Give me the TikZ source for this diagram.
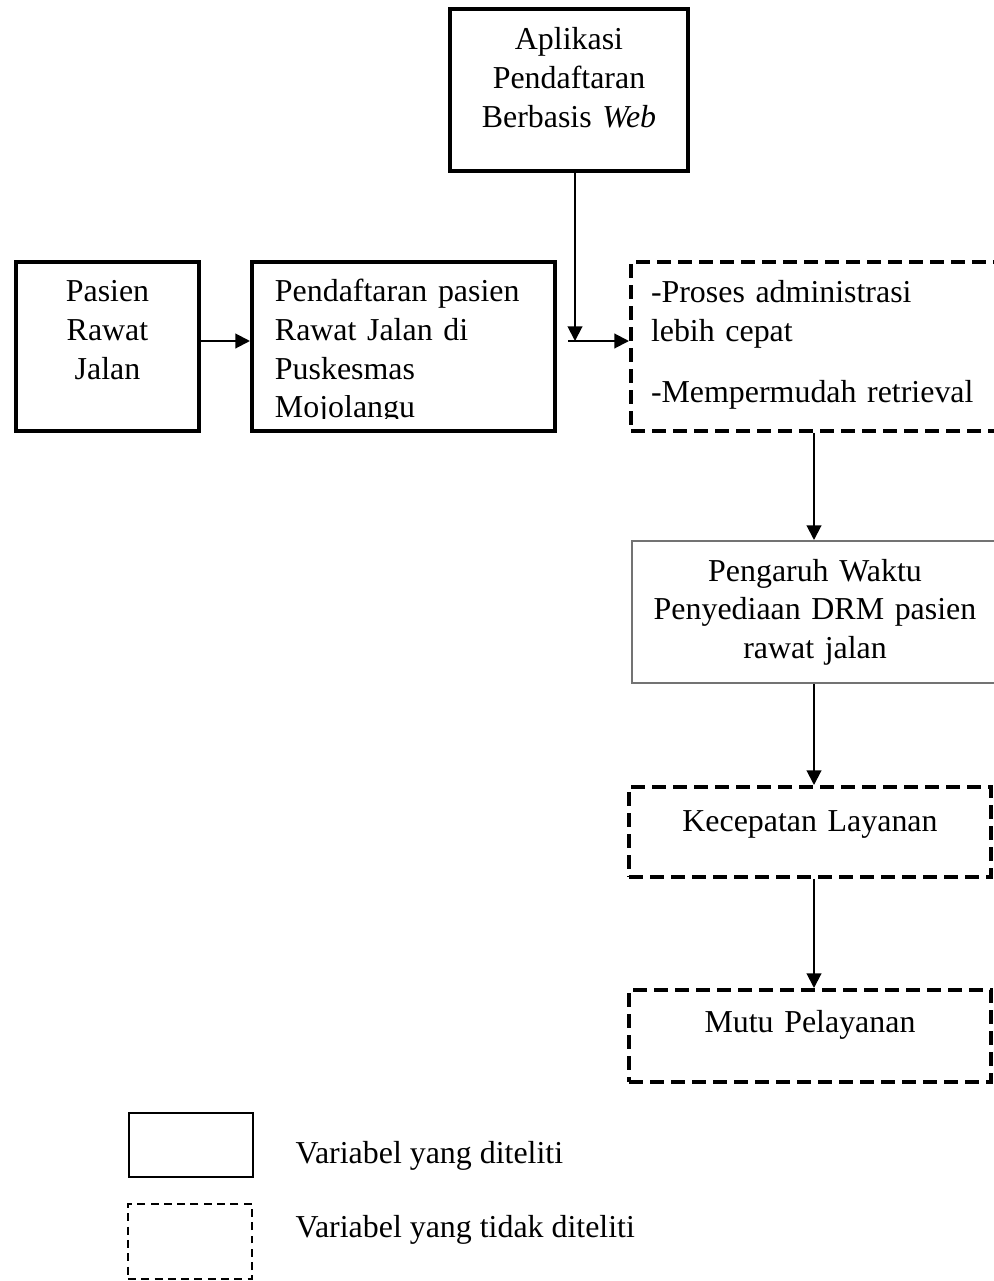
\documentclass[tikz,border=0pt]{standalone}
\usepackage{fontspec}
\setmainfont{Liberation Serif}
\usepackage{trimclip}
\usetikzlibrary{arrows.meta, positioning}
\newlength{\px}
\setlength{\px}{0.3761pt}

\begin{document}
\begin{tikzpicture}[
  x=\px, y=-\px,
  box/.style={draw, line width=1.5pt, inner sep=0pt, anchor=north west,
              font=\fontsize{12pt}{14.5pt}\selectfont},
  dashbox/.style={box, dash pattern=on 5.3pt off 2.6pt},
  thinbox/.style={box, draw=black!55, line width=0.75pt},
  keybox/.style={draw, line width=0.75pt, anchor=north west, inner sep=0pt,
                 minimum width=124\px},
  keytext/.style={anchor=base west, inner sep=0pt,
                  font=\fontsize{12pt}{14.5pt}\selectfont},
  arr/.style={-{Triangle[length=5.5pt, width=5.5pt]}, line width=0.75pt}
]
  \useasboundingbox (0,0) rectangle (993,1281);

  \node[box, text width=238\px, text height=41\px, text depth=121\px, align=center]
    (app) at (448,7) {Aplikasi\\Pendaftaran\\Berbasis \textit{Web}};
  \node[box, text width=183\px, text height=40\px, text depth=129\px, align=center]
    (pasien) at (14,260) {Pasien\\Rawat\\Jalan};
  \node[box, text width=257\px, inner xsep=23\px, text height=40\px, text depth=129\px, align=left]
    (reg) at (250,260) {Pendaftaran pasien\\Rawat Jalan di\\Puskesmas\\\clipbox{0pt 2.2pt 0pt 0pt}{Mojolangu}};
  \node[dashbox, text width=326\px, inner xsep=20\px, text height=41\px, text depth=128\px, align=left]
    (adv) at (629,260) {-Proses administrasi\\lebih cepat\\[8.5pt]-Mempermudah retrieval};
  \node[thinbox, text width=366\px, text height=40\px, text depth=102\px, align=center]
    (effect) at (631,540) {Pengaruh Waktu\\Penyediaan DRM pasien\\rawat jalan};
  \node[dashbox, text width=362\px, text height=44\px, text depth=46\px, align=center]
    (speed) at (627,785) {Kecepatan Layanan};
  \node[dashbox, text width=362\px, text height=42\px, text depth=50\px, align=center]
    (quality) at (627,988) {Mutu Pelayanan};

  % arrows
  \coordinate (join) at (568,341);
  \coordinate (drop) at (575,341);
  \draw[arr] (pasien.east |- join) -- (reg.west |- join);
  \draw[arr] (app.south -| drop) -- (drop);
  \draw[arr] (join) -- (adv.west |- join);
  \draw[arr] (adv.south) -- (adv.south |- effect.north);
  \draw[arr] (effect.south -| adv.south) -- (adv.south |- speed.north);
  \draw[arr] (speed.south -| adv.south) -- (adv.south |- quality.north);

  % legend
  \node[keybox, minimum height=64\px] (keysolid) at (128,1112) {};
  \node[keybox, minimum height=75\px, dash pattern=on 3pt off 2pt] (keydash) at (127,1203) {};
  \node[keytext] (keysolidtext) at (295,1163) {Variabel yang diteliti};
  \node[keytext] (keydashtext) at (295,1237) {Variabel yang tidak diteliti};
\end{tikzpicture}
\end{document}
